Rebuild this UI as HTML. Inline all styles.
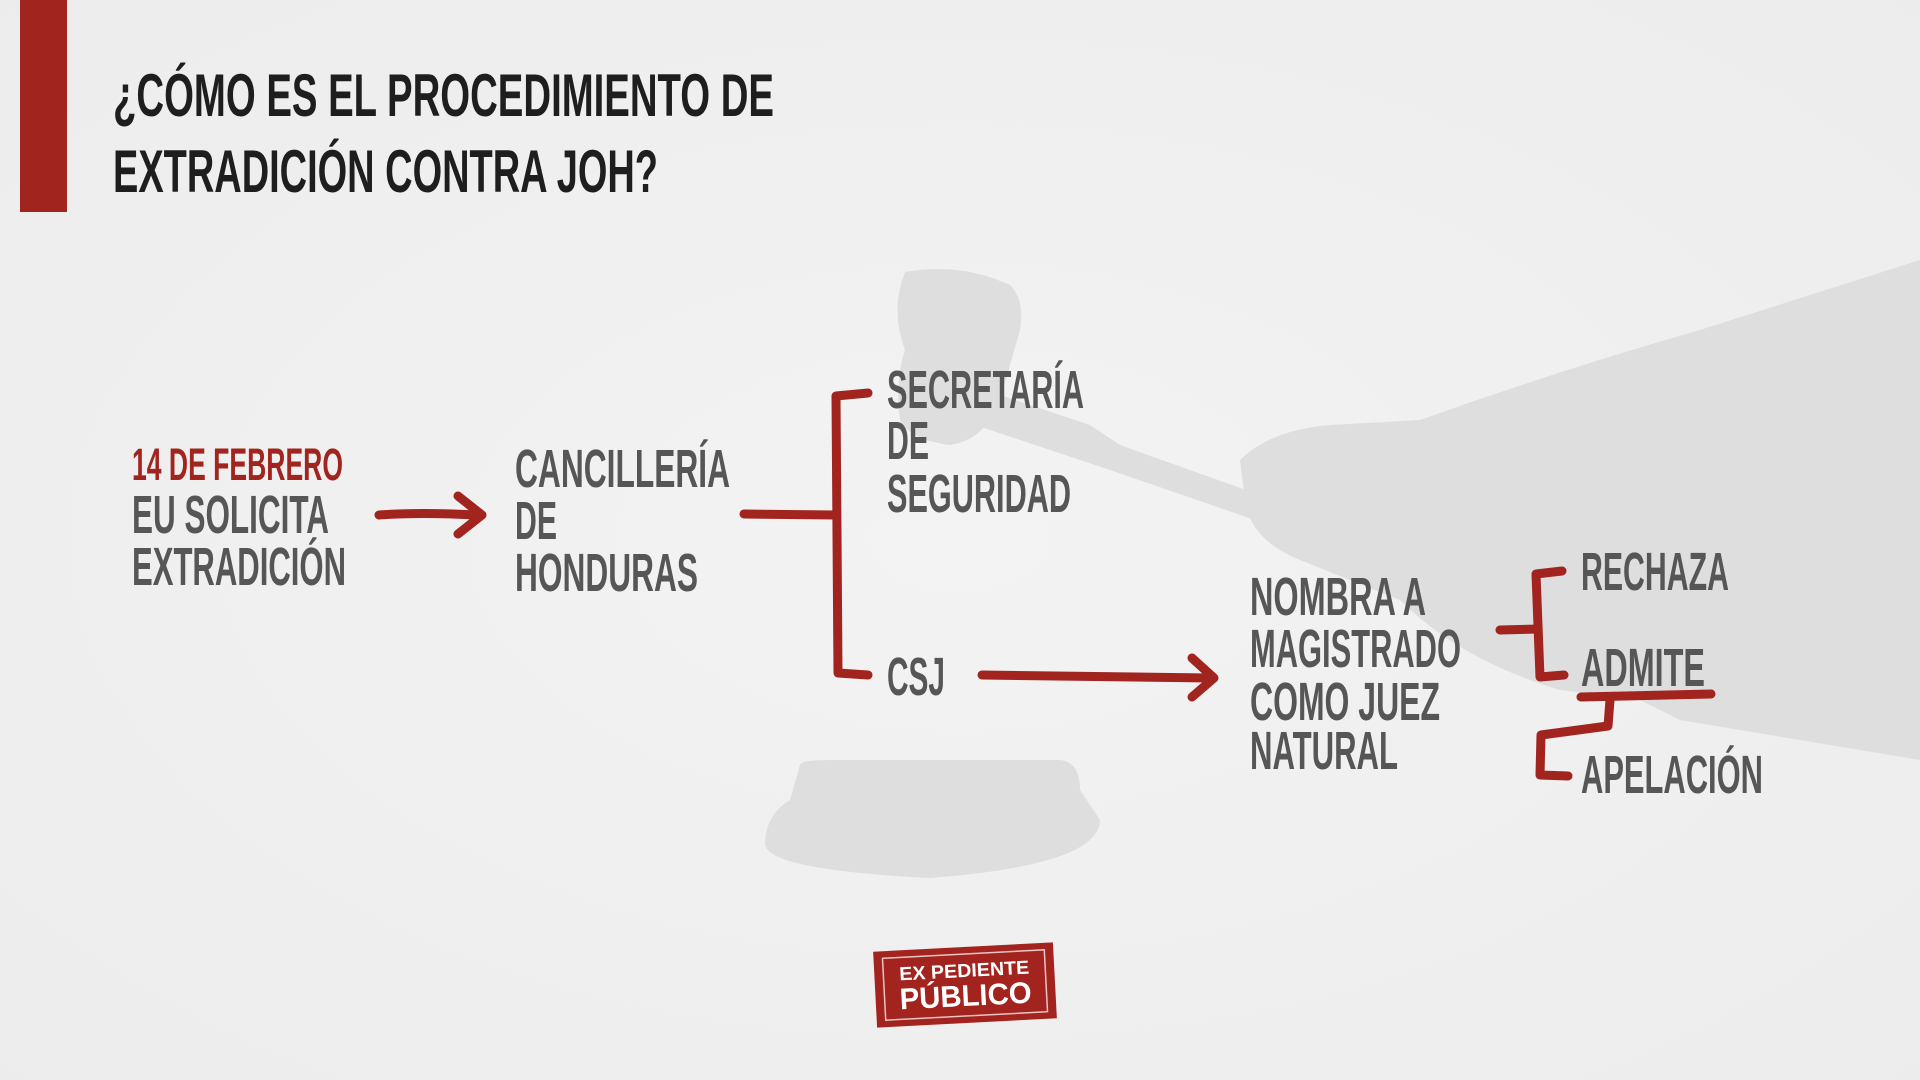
<!DOCTYPE html>
<html><head><meta charset="utf-8"><style>
html,body{margin:0;padding:0;width:1920px;height:1080px;overflow:hidden;background:#f1f1f1;}
svg{display:block}
text{font-family:"Liberation Sans",sans-serif;font-weight:bold;}
</style></head><body>
<svg width="1920" height="1080" viewBox="0 0 1920 1080" xmlns="http://www.w3.org/2000/svg">
<defs>
<radialGradient id="bg" cx="50%" cy="50%" r="75%">
<stop offset="0" stop-color="#f3f3f3"/><stop offset="1" stop-color="#ececec"/>
</radialGradient>
</defs>
<rect width="1920" height="1080" fill="url(#bg)"/>
<!-- gavel silhouette -->
<g fill="#dedede">
<path d="M905,272 Q960,262 1010,285 Q1025,300 1020,330 L1000,400 Q985,440 950,445 Q910,440 900,420 Q895,380 905,350 Q890,310 905,272Z"/>
<path d="M985,390 L1090,425 L1120,445 L1260,495 L1255,520 L1110,470 L1080,460 L975,425Z"/>
<path d="M1240,460 Q1270,430 1330,425 L1420,420 Q1560,370 1700,330 L1920,260 L1920,760 Q1800,740 1680,720 L1640,700 L1560,690 Q1460,660 1400,600 L1300,560 Q1250,540 1245,500Z"/>
<path d="M800,765 Q800,760 830,760 L1060,760 Q1080,762 1080,790 L1100,820 Q1100,865 930,878 Q770,870 765,845 Q765,815 790,800Z"/>
</g>
<!-- red bar -->
<rect x="20" y="0" width="47" height="212" fill="#a1241f"/>
<!-- title -->
<text x="113" y="116" font-size="60" fill="#1e1e1e" textLength="661" lengthAdjust="spacingAndGlyphs">¿CÓMO ES EL PROCEDIMIENTO DE</text>
<text x="113" y="192" font-size="60" fill="#1e1e1e" textLength="545" lengthAdjust="spacingAndGlyphs">EXTRADICIÓN CONTRA JOH?</text>
<!-- texts -->
<g fill="#565656" font-size="54">
<text x="132" y="480" font-size="45" fill="#a1241f" textLength="211" lengthAdjust="spacingAndGlyphs">14 DE FEBRERO</text>
<text x="132" y="533" textLength="197" lengthAdjust="spacingAndGlyphs">EU SOLICITA</text>
<text x="132" y="585" textLength="214" lengthAdjust="spacingAndGlyphs">EXTRADICIÓN</text>
<text x="515" y="487" textLength="215" lengthAdjust="spacingAndGlyphs">CANCILLERÍA</text>
<text x="515" y="539" textLength="42" lengthAdjust="spacingAndGlyphs">DE</text>
<text x="515" y="591" textLength="183" lengthAdjust="spacingAndGlyphs">HONDURAS</text>
<text x="887" y="408" textLength="197" lengthAdjust="spacingAndGlyphs">SECRETARÍA</text>
<text x="887" y="459" textLength="42" lengthAdjust="spacingAndGlyphs">DE</text>
<text x="887" y="512" textLength="184" lengthAdjust="spacingAndGlyphs">SEGURIDAD</text>
<text x="887" y="695" textLength="58" lengthAdjust="spacingAndGlyphs">CSJ</text>
<text x="1250" y="615" textLength="176" lengthAdjust="spacingAndGlyphs">NOMBRA A</text>
<text x="1250" y="667" textLength="211" lengthAdjust="spacingAndGlyphs">MAGISTRADO</text>
<text x="1250" y="720" textLength="190" lengthAdjust="spacingAndGlyphs">COMO JUEZ</text>
<text x="1250" y="769" textLength="148" lengthAdjust="spacingAndGlyphs">NATURAL</text>
<text x="1581" y="590" textLength="148" lengthAdjust="spacingAndGlyphs">RECHAZA</text>
<text x="1581" y="686" textLength="124" lengthAdjust="spacingAndGlyphs">ADMITE</text>
<text x="1581" y="793" textLength="182" lengthAdjust="spacingAndGlyphs">APELACIÓN</text>
</g>
<!-- connectors -->
<g fill="none" stroke="#a1241f" stroke-width="9" stroke-linecap="round" stroke-linejoin="round">
<path d="M379,515 Q420,512 476,515"/>
<path d="M458,496 L482,515 L458,534"/>
<path d="M744,514 L836,515"/>
<path d="M868,393 L836,396 L838,673 L868,675"/>
<path d="M982,675 L1210,678"/>
<path d="M1192,658 L1214,678 L1192,697"/>
<path d="M1500,630 L1538,629"/>
<path d="M1562,571 L1536,574 L1540,677 L1564,675"/>
<path d="M1581,697 L1711,694"/>
<path d="M1610,700 L1608,726 L1541,735 L1540,775 L1568,776"/>
</g>
<!-- logo -->
<g transform="rotate(-3 965 985)">
<rect x="875" y="947" width="180" height="76" fill="#a3231f"/>
<rect x="884" y="954" width="162" height="62" fill="none" stroke="#e8c6c4" stroke-width="1.5"/>
<text x="965" y="977" text-anchor="middle" font-size="19" fill="#fff" textLength="130" lengthAdjust="spacingAndGlyphs">EX PEDIENTE</text>
<text x="965" y="1006" text-anchor="middle" font-size="30" fill="#fff" textLength="132" lengthAdjust="spacingAndGlyphs">PÚBLICO</text>
</g>
</svg>
</body></html>
